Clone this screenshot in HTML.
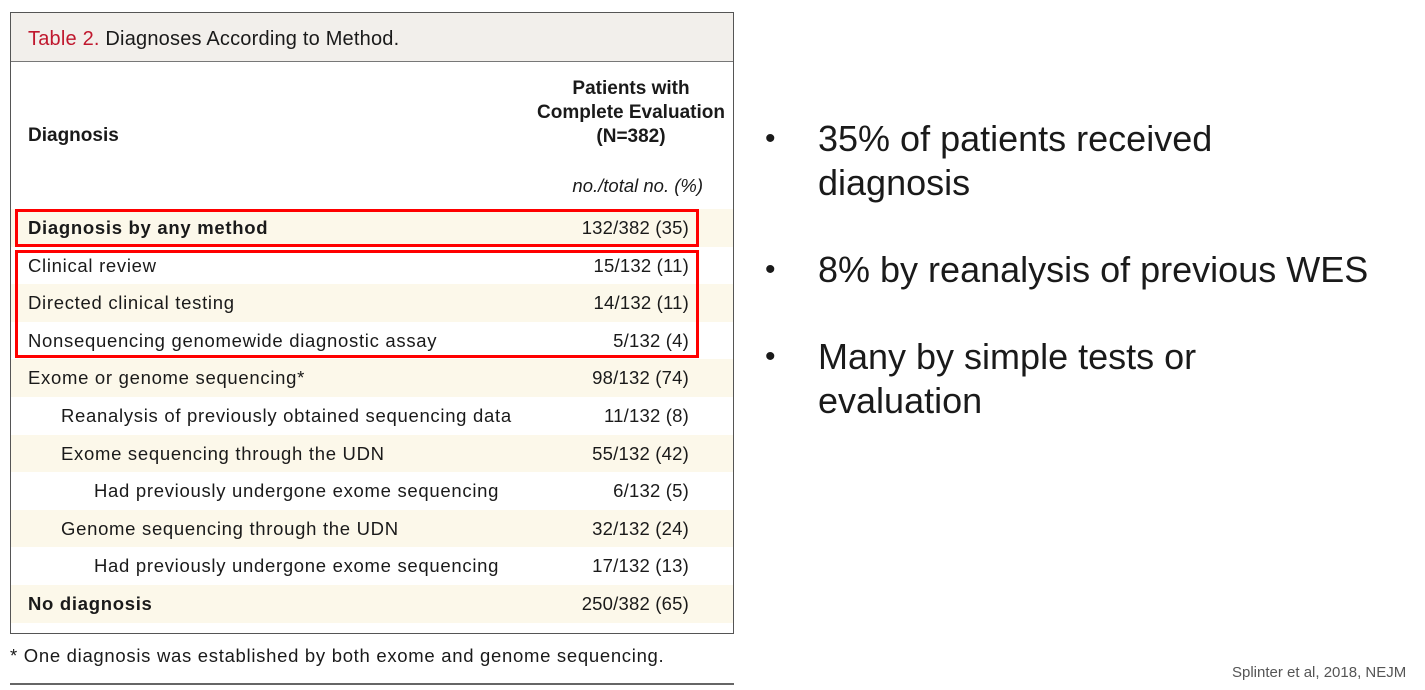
<!DOCTYPE html>
<html><head><meta charset="utf-8"><style>
body{margin:0;width:1425px;height:690px;background:#fff;position:relative;overflow:hidden;font-family:"Liberation Sans",sans-serif;color:#1a1a1a}
.abs{position:absolute}
#tbl{left:10px;top:12px;width:722px;height:620px;border:1.5px solid #555;background:#fff}
#title{left:0;top:0;width:722px;height:49px;background:#f2efeb;border-bottom:1.5px solid #777;font-size:20px;line-height:52px;padding-left:17px;box-sizing:border-box;letter-spacing:0.2px}
.row{position:absolute;left:0;width:722px;height:37.6px;font-size:18.5px;line-height:37.6px;letter-spacing:0.7px}
.row .l{position:absolute;left:17px}
.row .r{position:absolute;right:44px;letter-spacing:0.2px}
.cream{background:#fcf8ea}
.rb{position:absolute;border:3.5px solid #f00;box-sizing:border-box}
.bul{font-size:36px;line-height:44px;color:#1a1a1a}
</style></head><body>
<div id="tbl" class="abs">
 <div id="title" class="abs"><span style="color:#c0182e">Table 2.</span> Diagnoses According to Method.</div>
 <div class="abs" style="left:17px;top:112px;font-size:19px;font-weight:bold">Diagnosis</div>
 <div class="abs" style="left:520px;top:64px;width:200px;text-align:center;font-size:19px;font-weight:bold;line-height:24px">Patients with<br>Complete Evaluation<br>(N=382)</div>
 <div class="abs" style="right:30px;top:162px;font-size:18.5px;font-style:italic">no./total no. (%)</div>
 <div id="rows"></div>
</div>
<div class="rb" style="left:15px;top:209px;width:684px;height:38px"></div>
<div class="rb" style="left:15px;top:250px;width:684px;height:108px"></div>
<div class="abs" style="left:10px;top:645px;font-size:18.5px;letter-spacing:0.7px">* One diagnosis was established by both exome and genome sequencing.</div>
<div class="abs" style="left:10px;top:683px;width:724px;height:2px;background:#666"></div>
<div class="abs bul" style="left:765px;top:117px;font-size:30px">•</div>
<div class="abs bul" style="left:818px;top:117px">35% of patients received<br>diagnosis</div>
<div class="abs bul" style="left:765px;top:248px;font-size:30px">•</div>
<div class="abs bul" style="left:818px;top:248px">8% by reanalysis of previous WES</div>
<div class="abs bul" style="left:765px;top:335px;font-size:30px">•</div>
<div class="abs bul" style="left:818px;top:335px">Many by simple tests or<br>evaluation</div>
<div class="abs" style="left:1232px;top:664px;font-size:15px;color:#555">Splinter et al, 2018, NEJM</div>
<script>
const labels=["Diagnosis by any method","Clinical review","Directed clinical testing","Nonsequencing genomewide diagnostic assay","Exome or genome sequencing*","Reanalysis of previously obtained sequencing data","Exome sequencing through the UDN","Had previously undergone exome sequencing","Genome sequencing through the UDN","Had previously undergone exome sequencing","No diagnosis"];
const values=["132/382 (35)","15/132 (11)","14/132 (11)","5/132 (4)","98/132 (74)","11/132 (8)","55/132 (42)","6/132 (5)","32/132 (24)","17/132 (13)","250/382 (65)"];
const indents=[0,0,0,0,0,1,1,2,1,2,0];
const bold=[1,0,0,0,0,0,0,0,0,0,1];
const rows=document.getElementById('rows');
labels.forEach((t,i)=>{
 const r=document.createElement('div');
 r.className='row'+(i%2===0?' cream':'');
 r.style.top=(196+i*37.6)+'px';
 
 
 const l=document.createElement('span');l.className='l';l.textContent=t;
 l.style.left=(17+indents[i]*33)+'px';if(bold[i])l.style.fontWeight='bold';
 
 
 const v=document.createElement('span');v.className='r';v.textContent=values[i];
 
 
 r.appendChild(l);r.appendChild(v);rows.appendChild(r);
});
</script>
</body></html>
